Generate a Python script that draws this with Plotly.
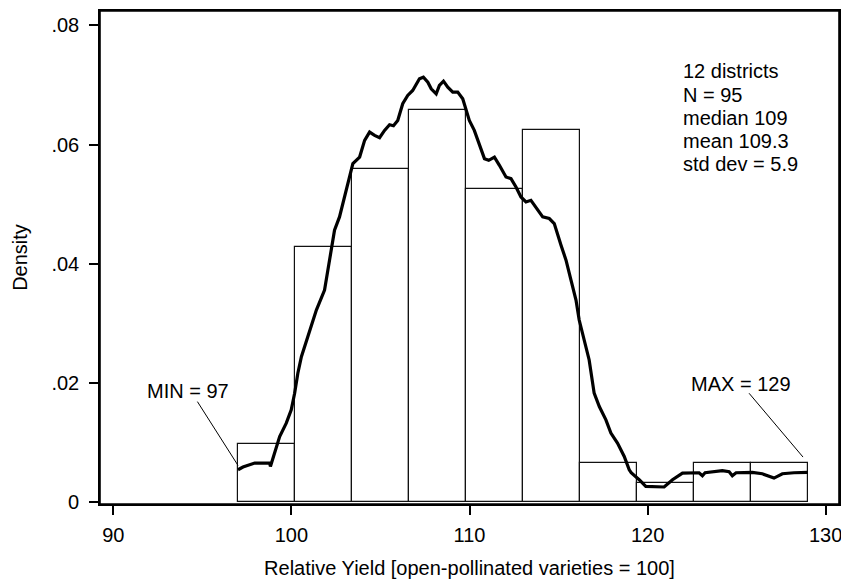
import plotly.graph_objects as go

# Histogram (density) bins
bin_left = [97.0, 100.2, 103.4, 106.6, 109.8, 113.0, 116.2, 119.4, 122.6, 125.8]
bin_width = 3.2
bin_density = [0.00987, 0.04276, 0.05592, 0.06579, 0.05263, 0.0625, 0.00658, 0.00329, 0.00658, 0.00658]

# Density curve
curve_x = [97.00, 97.28, 97.94, 98.78, 98.82, 99.15, 99.34, 99.71, 99.99, 100.18,
           100.36, 100.56, 100.93, 101.40, 101.86, 102.05, 102.24, 102.42, 102.70, 102.98,
           103.26, 103.45, 103.83, 104.11, 104.39, 104.67, 104.95, 105.23, 105.51, 105.73,
           105.97, 106.25, 106.53, 106.81, 107.19, 107.41, 107.66, 107.85, 108.13, 108.31,
           108.54, 108.78, 109.06, 109.34, 109.62, 109.81, 109.99, 110.27, 110.56, 110.84,
           111.08, 111.40, 111.68, 112.05, 112.33, 112.61, 112.89, 113.17, 113.45, 113.82,
           114.11, 114.48, 114.76, 115.14, 115.42, 115.70, 115.98, 116.16, 116.44, 116.72,
           117.00, 117.29, 117.66, 117.94, 118.31, 118.69, 118.97, 119.08, 119.53, 119.90,
           120.93, 121.40, 121.96, 122.89, 123.08, 123.23, 124.20, 124.58, 124.76, 124.97,
           125.88, 126.44, 127.10, 127.57, 128.22, 129.00]
curve_y = [0.00547, 0.00592, 0.00659, 0.00659, 0.00603, 0.00937, 0.01105, 0.01329, 0.01551, 0.01831,
           0.02166, 0.02444, 0.02778, 0.03225, 0.03560, 0.03895, 0.04196, 0.04564, 0.04787, 0.05121,
           0.05401, 0.05680, 0.05791, 0.06070, 0.06209, 0.06154, 0.06116, 0.06238, 0.06333, 0.06316,
           0.06405, 0.06685, 0.06824, 0.06907, 0.07103, 0.07130, 0.07046, 0.06936, 0.06852, 0.06991,
           0.07063, 0.06962, 0.06879, 0.06879, 0.06768, 0.06572, 0.06405, 0.06238, 0.06015, 0.05764,
           0.05736, 0.05791, 0.05652, 0.05456, 0.05429, 0.05289, 0.05121, 0.05038, 0.05066, 0.04899,
           0.04787, 0.04760, 0.04676, 0.04313, 0.04062, 0.03727, 0.03392, 0.03058, 0.02723, 0.02388,
           0.01831, 0.01607, 0.01384, 0.01162, 0.00994, 0.00770, 0.00547, 0.00497, 0.00380, 0.00268,
           0.00258, 0.00380, 0.00492, 0.00497, 0.00447, 0.00497, 0.00531, 0.00514, 0.00447, 0.00497,
           0.00502, 0.00480, 0.00408, 0.00480, 0.00497, 0.00502]

x_ticks = [90, 100, 110, 120, 130]
y_ticks = [0, 0.02, 0.04, 0.06, 0.08]
y_tick_labels = ["0", ".02", ".04", ".06", ".08"]

stats_lines = ["12 districts", "N = 95", "median 109", "mean 109.3", "std dev = 5.9"]
min_label = "MIN = 97"
max_label = "MAX = 129"

FONT = "Liberation Sans, Arial, Helvetica, sans-serif"
FS = 20

bin_centers = [b + bin_width / 2 for b in bin_left]

fig = go.Figure()
fig.add_trace(go.Bar(
    x=bin_centers, y=bin_density, width=[bin_width] * len(bin_left),
    marker=dict(color="white", line=dict(color="#111111", width=1.2)),
    showlegend=False, hoverinfo="skip",
))
fig.add_trace(go.Scatter(
    x=curve_x, y=curve_y, mode="lines",
    line=dict(color="black", width=3.2),
    showlegend=False,
))

# leader lines for MIN / MAX labels
fig.add_trace(go.Scatter(x=[94.72, 97.0], y=[0.0169, 0.0062], mode="lines",
                         line=dict(color="black", width=1), showlegend=False))
fig.add_trace(go.Scatter(x=[125.70, 128.73], y=[0.0183, 0.0076], mode="lines",
                         line=dict(color="black", width=1), showlegend=False))

fig.add_annotation(x=94.20, y=0.0186, text=min_label, showarrow=False,
                   font=dict(size=FS, color="black", family=FONT))
fig.add_annotation(x=125.23, y=0.0199, text=max_label, showarrow=False,
                   font=dict(size=FS, color="black", family=FONT))

# stats block, one annotation per line
line0_y = 0.07228
line_step = 0.0039
for i, line in enumerate(stats_lines):
    fig.add_annotation(x=121.85, y=line0_y - i * line_step, xanchor="left", yanchor="middle",
                       text=line, showarrow=False,
                       font=dict(size=FS, color="black", family=FONT))

# plot frame
fig.add_shape(type="rect", xref="paper", yref="paper", x0=0, y0=0, x1=1, y1=1,
              line=dict(color="black", width=1.6), layer="above")

fig.update_layout(
    width=841, height=583,
    margin=dict(l=100, r=2, t=11, b=79),
    paper_bgcolor="white", plot_bgcolor="white",
    bargap=0,
    font=dict(family=FONT, size=FS, color="black"),
    xaxis=dict(
        range=[89.25, 130.75], tickvals=x_ticks, automargin=False, ticklabeloverflow="allow",
        ticklabelstandoff=3,
        showline=True, linecolor="black", linewidth=1.6, mirror=True,
        ticks="outside", ticklen=9, tickwidth=1.6, tickcolor="black",
        showgrid=False, zeroline=False,
        title=dict(text="Relative Yield [open-pollinated varieties = 100]",
                   font=dict(size=FS), standoff=16),
    ),
    yaxis=dict(
        range=[-0.00027, 0.0824], tickvals=y_ticks, ticktext=y_tick_labels, automargin=False,
        ticklabeloverflow="allow", ticklabelstandoff=6,
        showline=True, linecolor="black", linewidth=1.6, mirror=True,
        ticks="outside", ticklen=9, tickwidth=1.6, tickcolor="black",
        showgrid=False, zeroline=False,
        title=dict(text="Density", font=dict(size=FS), standoff=18),
    ),
)

fig.write_html("out.html", config={"displayModeBar": False},
               post_script="document.body.style.margin='0';document.body.style.padding='0';"
                           "document.documentElement.style.overflow='hidden';")
